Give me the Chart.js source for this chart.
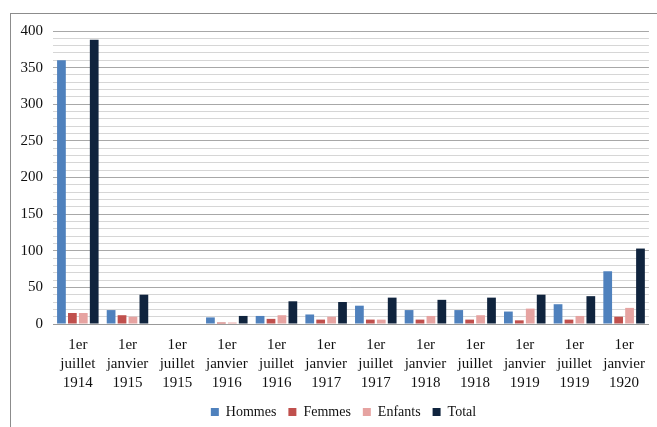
<!DOCTYPE html>
<html>
<head>
<meta charset="utf-8">
<script src="https://cdn.jsdelivr.net/npm/chart.js@4/dist/chart.umd.min.js"></script>
<style>
  html, body { margin: 0; padding: 0; background: #fff; }
  #wrap { position: relative; width: 657px; height: 427px; overflow: hidden; }
  #frame { position: absolute; left: 10px; top: 13px; width: 700px; height: 500px;
           border: 1px solid #8c8c8c; pointer-events: none; }
  canvas { position: absolute; left: 0; top: 0; }
</style>
</head>
<body>
<div id="wrap">
  <canvas id="chart" width="657" height="427"></canvas>
  <div id="frame"></div>
</div>
<script>
// categories (one array per label, one line each)
var categories = [
  ['1er', 'juillet', '1914'], ['1er', 'janvier', '1915'], ['1er', 'juillet', '1915'],
  ['1er', 'janvier', '1916'], ['1er', 'juillet', '1916'], ['1er', 'janvier', '1917'],
  ['1er', 'juillet', '1917'], ['1er', 'janvier', '1918'], ['1er', 'juillet', '1918'],
  ['1er', 'janvier', '1919'], ['1er', 'juillet', '1919'], ['1er', 'janvier', '1920']
];
var hommes  = [360, 19, 0,  9, 11, 13, 25, 19, 19, 17, 27, 72];
var femmes  = [ 15, 12, 0,  2,  7,  6,  6,  6,  6,  5,  6, 10];
var enfants = [ 15, 10, 0,  2, 12, 10,  6, 11, 12, 21, 11, 22];
var total   = [388, 40, 0, 11, 31, 30, 36, 33, 36, 40, 38, 103];
var yTicks  = [0, 50, 100, 150, 200, 250, 300, 350, 400];

var serif = '"Liberation Serif", "Times New Roman", serif';

// nudge the legend a bit to the right and down, like the original
var legendShift = {
  id: 'legendShift',
  afterLayout: function(chart) {
    if (chart.legend) {
      chart.legend.left += 16;
      chart.legend.right += 16;
      chart.legend.top += 2;
      chart.legend.bottom += 2;
    }
  }
};

function drawGraph() {
  var ctx = document.getElementById('chart');
  var myChart = new Chart(ctx, {
    type: 'bar',
    data: {
      labels: categories,
      datasets: [
        { label: 'Hommes',  data: hommes,  backgroundColor: '#4f81bd' },
        { label: 'Femmes',  data: femmes,  backgroundColor: '#c0504d' },
        { label: 'Enfants', data: enfants, backgroundColor: '#e6a3a1' },
        { label: 'Total',   data: total,   backgroundColor: '#10243e' }
      ]
    },
    options: {
      responsive: false,
      animation: false,
      layout: { padding: { top: 31, right: 2, left: 0, bottom: 0 } },
      datasets: {
        bar: { categoryPercentage: 0.88, barPercentage: 0.8 }
      },
      scales: {
        x: {
          grid: { display: false, drawTicks: false },
          border: { display: true, color: '#999999' },
          ticks: {
            color: '#111111',
            padding: 12,
            maxRotation: 0,
            autoSkip: false,
            font: { family: serif, size: 15, lineHeight: 1.25 }
          },
          afterFit: function(scale) { scale.height = 67; }
        },
        y: {
          min: 0,
          max: 400,
          grid: {
            drawTicks: false,
            color: function(c) {
              return c.tick && c.tick.value % 50 === 0 ? '#a8a8a8' : '#d6d6d6';
            }
          },
          border: { display: false },
          ticks: {
            stepSize: 10,
            autoSkip: false,
            padding: 10,
            color: '#111111',
            font: { family: serif, size: 15 },
            callback: function(v) {
              return yTicks.indexOf(v) >= 0 ? v : '';
            }
          },
          afterFit: function(scale) { scale.width = 53; }
        }
      },
      plugins: {
        legend: {
          position: 'bottom',
          labels: {
            boxWidth: 8,
            boxHeight: 8,
            padding: 12,
            color: '#111111',
            font: { family: serif, size: 14 }
          }
        },
        tooltip: { enabled: false }
      }
    },
    plugins: [legendShift]
  });
  return myChart;
}

drawGraph();
</script>
</body>
</html>
